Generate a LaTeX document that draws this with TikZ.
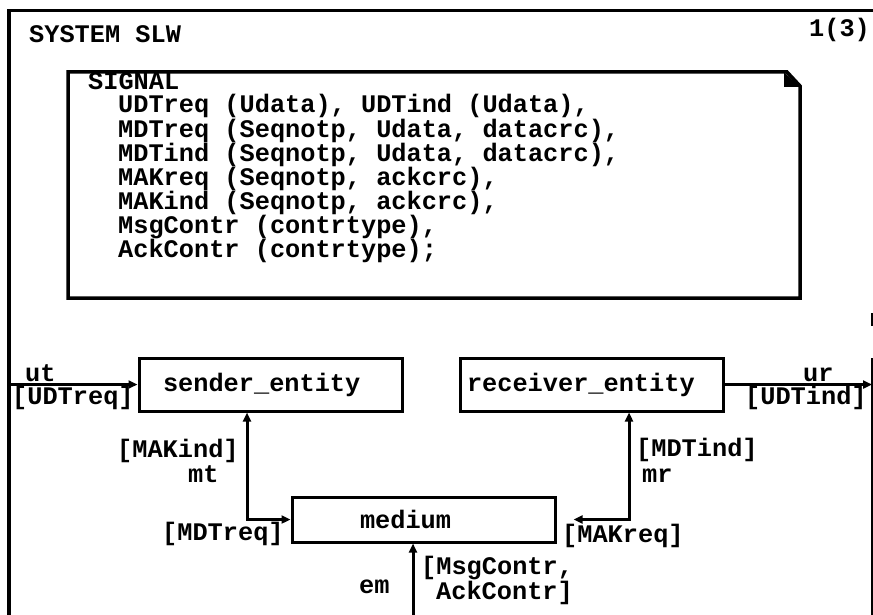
\documentclass[tikz,border=0pt]{standalone}
\usepackage{fontspec}
\newfontfamily\sdlfont{Liberation Mono}
\usetikzlibrary{arrows.meta}

\tikzset{
  sdl/.style={font=\sdlfont\bfseries\fontsize{25.3pt}{24.3pt}\selectfont},
  txt/.style={sdl, anchor=base west, inner sep=0pt},
  block/.style={draw, line width=3pt, sdl, inner xsep=0pt, inner ysep=0pt,
    text width=263pt, align=left, minimum width=263pt},
  chan/.style={line width=3pt},
  tipend/.style={-{Triangle[length=9pt,width=8pt]}},
  tipboth/.style={{Triangle[length=9pt,width=8pt]}-{Triangle[length=9pt,width=8pt]}},
}

\begin{document}
\begin{tikzpicture}[x=1pt,y=-1pt]
  \useasboundingbox (0,0) rectangle (873,615);

  % system frame
  \draw[line width=3.5pt, line join=miter] (9,615) -- (9,10.5) -- (873,10.5);
  \draw[line width=2pt] (871.5,313) -- (871.5,326);
  \draw[line width=2pt] (871.5,358) -- (871.5,615);

  \node[txt] (title) at (29,43) {SYSTEM SLW};
  \node[txt] (page) at (809,37) {1(3)};

  % text symbol with the signal declarations
  \draw[line width=3.5pt, line join=miter]
    (68,72) -- (787,72) -- (800,86) -- (800,298) -- (68,298) -- cycle;
  \fill (784,72) -- (784,87) -- (800,87) -- cycle;

  \node[txt] (sighead) at (88,90) {SIGNAL};
  \node[txt] (sig1) at (118,113.0) {UDTreq (Udata), UDTind (Udata),};
  \node[txt] (sig2) at (118,137.1) {MDTreq (Seqnotp, Udata, datacrc),};
  \node[txt] (sig3) at (118,161.2) {MDTind (Seqnotp, Udata, datacrc),};
  \node[txt] (sig4) at (118,185.3) {MAKreq (Seqnotp, ackcrc),};
  \node[txt] (sig5) at (118,209.4) {MAKind (Seqnotp, ackcrc),};
  \node[txt] (sig6) at (118,233.5) {MsgContr (contrtype),};
  \node[txt] (sig7) at (118,257.6) {AckContr (contrtype);};

  % blocks
  \node[block, minimum height=53pt] (sender) at (270.5,384.5) {\hspace*{24pt}sender\_entity};
  \node[block, minimum height=53pt] (receiver) at (591.5,384.5) {\hspace*{7pt}receiver\_entity};
  \node[block, minimum height=45pt] (medium) at (423.5,519.5) {\hspace*{68pt}medium};

  % channels
  \coordinate (utin) at (9,384.5);
  \coordinate (urout) at (872,384.5);
  \coordinate (emin) at (413,615);

  \draw[chan, tipend] (utin) -- (sender.west);
  \draw[chan, tipend] (receiver.east) -- (urout);
  \draw[chan, tipboth] ([xshift=-23.5pt]sender.south) |- (medium.west);
  \draw[chan, tipboth, shorten >=17pt] ([xshift=37.5pt]receiver.south) |- (medium.east);
  \draw[chan, tipend] (emin) -- (emin |- medium.south);

  % channel names and signal lists
  \node[txt] (utname) at (25,381) {ut};
  \node[txt] (utsig) at (12,404) {[UDTreq]};
  \node[txt] (urname) at (803,381) {ur};
  \node[txt] (ursig) at (745,404) {[UDTind]};
  \node[txt] (mtsig) at (117,457) {[MAKind]};
  \node[txt] (mtname) at (188,482) {mt};
  \node[txt] (mtsig2) at (162,540) {[MDTreq]};
  \node[txt] (mrsig) at (636,456) {[MDTind]};
  \node[txt] (mrname) at (642,482) {mr};
  \node[txt] (mrsig2) at (562,542) {[MAKreq]};
  \node[txt] (emname) at (359,593) {em};
  \node[txt] (emsig1) at (421,574) {[MsgContr,};
  \node[txt] (emsig2) at (436,599) {AckContr]};
\end{tikzpicture}
\end{document}
